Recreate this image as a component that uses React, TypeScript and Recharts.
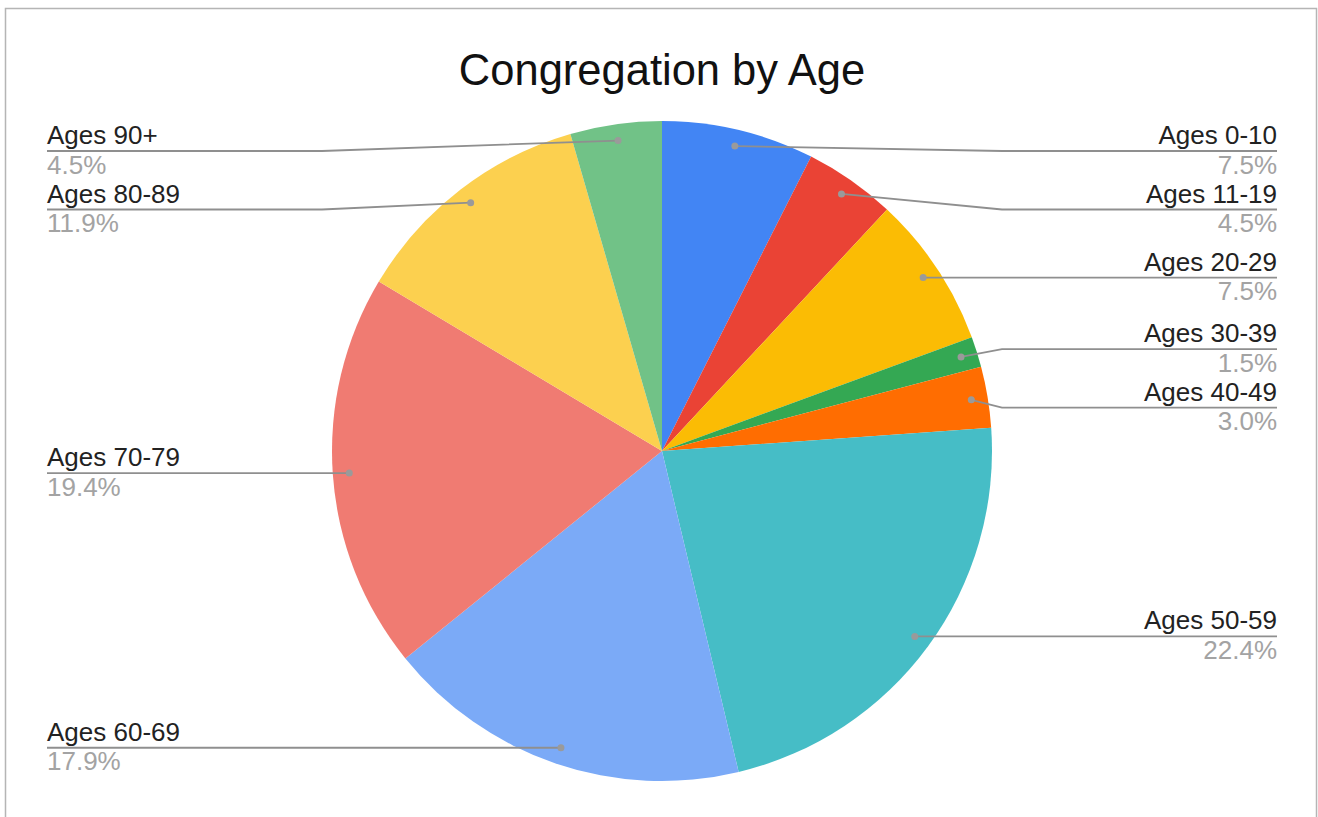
import React from 'react';
import { PieChart, Pie, Cell } from 'recharts';

const categories = ['Ages 0-10', 'Ages 11-19', 'Ages 20-29', 'Ages 30-39', 'Ages 40-49', 'Ages 50-59', 'Ages 60-69', 'Ages 70-79', 'Ages 80-89', 'Ages 90+'];
const counts = [5, 3, 5, 1, 2, 15, 12, 13, 8, 3];
const colors = ['#4285F4', '#EA4335', '#FBBC04', '#34A853', '#FF6D01', '#46BDC6', '#7BAAF7', '#F07B72', '#FCD04F', '#71C287'];
const title = 'Congregation by Age';

const data = categories.map((name, i) => ({ name, value: counts[i] }));

const W = 1318;
const H = 817;
const CX = 662;
const CY = 451;
const R = 330;
const ANCHOR = 0.95;
const TOP_Y = 151;
const SPACING = 58.5;
const RIGHT_X = 1277;
const LEFT_X = 47;
const BEND = 10;
const FONT = '"Liberation Sans", Arial, sans-serif';
const RAD = Math.PI / 180;

// compute label line y positions (collision avoidance), from the data angles
function computeLayout(): number[] {
  const total = counts.reduce((a, b) => a + b, 0);
  let cum = 0;
  const items = counts.map((v, i) => {
    const mid = (cum + v / 2) / total * 360;
    cum += v;
    const ang = 90 - mid; // math angle
    const x = CX + Math.cos(ang * RAD) * R * ANCHOR;
    const y = CY - Math.sin(ang * RAD) * R * ANCHOR;
    return { i, x, y, right: x >= CX };
  });
  const result: number[] = new Array(counts.length).fill(0);
  [true, false].forEach((side) => {
    const list = items.filter((it) => it.right === side).sort((a, b) => a.y - b.y);
    let clusters = list.map((it) => ({ members: [it], start: it.y }));
    const place = (c: { members: typeof list; start: number }) => {
      const mean = c.members.reduce((s, m) => s + m.y, 0) / c.members.length;
      c.start = Math.max(TOP_Y, mean - ((c.members.length - 1) / 2) * SPACING);
    };
    clusters.forEach(place);
    let changed = true;
    while (changed) {
      changed = false;
      for (let k = 0; k < clusters.length - 1; k++) {
        const a = clusters[k];
        const b = clusters[k + 1];
        const aEnd = a.start + (a.members.length - 1) * SPACING;
        if (b.start - aEnd < SPACING - 0.01) {
          const merged = { members: [...a.members, ...b.members], start: 0 };
          place(merged);
          clusters.splice(k, 2, merged);
          changed = true;
          break;
        }
      }
    }
    clusters.forEach((c) => c.members.forEach((m, j) => { result[m.i] = c.start + j * SPACING; }));
  });
  return result;
}

const labelY = computeLayout();

const renderLabel = (props: any) => {
  const { cx, cy, midAngle, outerRadius, index, percent, name } = props;
  const ax = cx + Math.cos(-midAngle * RAD) * outerRadius * ANCHOR;
  const ay = cy + Math.sin(-midAngle * RAD) * outerRadius * ANCHOR;
  const right = ax >= cx;
  const ty = labelY[index];
  const bendX = right ? cx + outerRadius + BEND : cx - outerRadius - BEND;
  const endX = right ? RIGHT_X : LEFT_X;
  const pts = `${ax},${ay} ${bendX},${ty} ${endX},${ty}`;
  return (
    <g key={`lbl-${index}`}>
      <polyline points={pts} fill="none" stroke="#8f8f8f" strokeWidth={1.8} />
      <circle cx={ax} cy={ay} r={3.5} fill="#9a9a9a" />
      <text x={endX} y={ty - 7} textAnchor={right ? 'end' : 'start'} fontFamily={FONT} fontSize={26} fill="#222222">
        {name}
      </text>
      <text x={endX} y={ty + 22.5} textAnchor={right ? 'end' : 'start'} fontFamily={FONT} fontSize={26} fill="#a3a3a3">
        {(percent * 100).toFixed(1)}%
      </text>
    </g>
  );
};

export default function App() {
  return (
    <div style={{ position: 'absolute', left: 0, top: 0, width: W, height: H, background: '#ffffff', overflow: 'hidden' }}>
      <PieChart width={W} height={H} margin={{ top: 0, right: 0, bottom: 0, left: 0 }}>
        <Pie
          data={data}
          dataKey="value"
          nameKey="name"
          cx={CX}
          cy={CY}
          outerRadius={R}
          startAngle={90}
          endAngle={-270}
          stroke="none"
          label={renderLabel}
          labelLine={false}
          isAnimationActive={false}
        >
          {data.map((d, i) => (
            <Cell key={d.name} fill={colors[i]} stroke="none" />
          ))}
        </Pie>
      </PieChart>
      <svg width={W} height={H} style={{ position: 'absolute', left: 0, top: 0, pointerEvents: 'none' }}>
        <rect x={5.5} y={8.5} width={1311} height={840} fill="none" stroke="#b5b5b5" strokeWidth={1.5} />
        <text x={CX} y={85} textAnchor="middle" fontFamily={FONT} fontSize={43.5} fill="#111111">
          {title}
        </text>
      </svg>
    </div>
  );
}
